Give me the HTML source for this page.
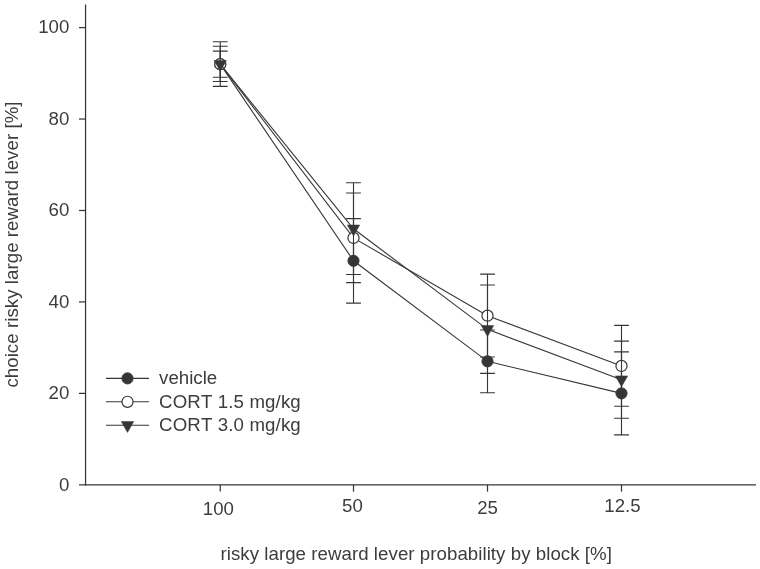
<!DOCTYPE html>
<html><head><meta charset="utf-8"><title>chart</title>
<style>html,body{margin:0;padding:0;background:#fff;}svg{display:block;will-change:transform;}text{font-kerning:none;font-family:"Liberation Sans",sans-serif;font-size:18.67px;fill:#3d3d3d;}</style>
</head><body>
<svg width="760" height="569" viewBox="0 0 760 569">
<rect x="0" y="0" width="760" height="569" fill="#ffffff"/>
<g stroke="#363636" stroke-width="1.25" fill="none">
<line x1="85.55" y1="4.4" x2="85.55" y2="485.5"/>
<line x1="79" y1="484.8" x2="756" y2="484.8"/>
<line x1="79" y1="393.36" x2="85.55" y2="393.36"/>
<line x1="79" y1="301.92" x2="85.55" y2="301.92"/>
<line x1="79" y1="210.48" x2="85.55" y2="210.48"/>
<line x1="79" y1="119.04" x2="85.55" y2="119.04"/>
<line x1="79" y1="27.60" x2="85.55" y2="27.60"/>
<line x1="220.25" y1="484.8" x2="220.25" y2="491.6"/>
<line x1="353.5" y1="484.8" x2="353.5" y2="491.6"/>
<line x1="487.5" y1="484.8" x2="487.5" y2="491.6"/>
<line x1="621.5" y1="484.8" x2="621.5" y2="491.6"/>
</g>
<g stroke="#363636" stroke-width="1.1" fill="none">
<polyline points="220.25,64.18 353.50,260.77 487.50,361.36 621.50,393.36"/>
<path d="M220.25 51.10V77.20M212.85 51.10H227.65M212.85 77.20H227.65"/>
<path d="M353.50 218.60V303.10M346.10 218.60H360.90M346.10 303.10H360.90"/>
<path d="M487.50 330.00V392.80M480.10 330.00H494.90M480.10 392.80H494.90"/>
<path d="M621.50 351.90V434.90M614.10 351.90H628.90M614.10 434.90H628.90"/>
</g>
<circle cx="220.25" cy="64.18" r="5.55" fill="#363636" stroke="#363636" stroke-width="1"/>
<circle cx="353.50" cy="260.77" r="5.55" fill="#363636" stroke="#363636" stroke-width="1"/>
<circle cx="487.50" cy="361.36" r="5.55" fill="#363636" stroke="#363636" stroke-width="1"/>
<circle cx="621.50" cy="393.36" r="5.55" fill="#363636" stroke="#363636" stroke-width="1"/>
<g stroke="#363636" stroke-width="1.1" fill="none">
<polyline points="220.25,64.18 353.50,237.91 487.50,315.64 621.50,365.93"/>
<path d="M220.25 46.30V81.50M212.85 46.30H227.65M212.85 81.50H227.65"/>
<path d="M353.50 193.00V282.60M346.10 193.00H360.90M346.10 282.60H360.90"/>
<path d="M487.50 274.10V357.00M480.10 274.10H494.90M480.10 357.00H494.90"/>
<path d="M621.50 325.40V406.30M614.10 325.40H628.90M614.10 406.30H628.90"/>
</g>
<circle cx="220.25" cy="64.18" r="5.55" fill="#fff" stroke="#363636" stroke-width="1.2"/>
<circle cx="353.50" cy="237.91" r="5.55" fill="#fff" stroke="#363636" stroke-width="1.2"/>
<circle cx="487.50" cy="315.64" r="5.55" fill="#fff" stroke="#363636" stroke-width="1.2"/>
<circle cx="621.50" cy="365.93" r="5.55" fill="#fff" stroke="#363636" stroke-width="1.2"/>
<g stroke="#363636" stroke-width="1.1" fill="none">
<polyline points="220.25,64.18 353.50,228.77 487.50,329.35 621.50,379.64"/>
<path d="M220.25 41.80V86.40M212.85 41.80H227.65M212.85 86.40H227.65"/>
<path d="M353.50 182.70V274.50M346.10 182.70H360.90M346.10 274.50H360.90"/>
<path d="M487.50 285.00V373.40M480.10 285.00H494.90M480.10 373.40H494.90"/>
<path d="M621.50 341.10V418.30M614.10 341.10H628.90M614.10 418.30H628.90"/>
</g>
<path d="M214.05 60.43H226.45L220.25 71.33Z" fill="#363636" stroke="#363636" stroke-width="0.5" stroke-linejoin="miter"/>
<path d="M347.30 225.02H359.70L353.50 235.92Z" fill="#363636" stroke="#363636" stroke-width="0.5" stroke-linejoin="miter"/>
<path d="M481.30 325.60H493.70L487.50 336.50Z" fill="#363636" stroke="#363636" stroke-width="0.5" stroke-linejoin="miter"/>
<path d="M615.30 375.89H627.70L621.50 386.79Z" fill="#363636" stroke="#363636" stroke-width="0.5" stroke-linejoin="miter"/>
<line x1="106.0" y1="378.4" x2="149.1" y2="378.4" stroke="#363636" stroke-width="1.1"/>
<circle cx="127.50" cy="378.40" r="5.55" fill="#363636" stroke="#363636" stroke-width="1"/>
<line x1="106.0" y1="401.8" x2="149.1" y2="401.8" stroke="#363636" stroke-width="1.1"/>
<circle cx="127.50" cy="401.80" r="5.55" fill="#fff" stroke="#363636" stroke-width="1.2"/>
<line x1="106.0" y1="425.3" x2="149.1" y2="425.3" stroke="#363636" stroke-width="1.1"/>
<path d="M121.30 421.55H133.70L127.50 432.45Z" fill="#363636" stroke="#363636" stroke-width="0.5" stroke-linejoin="miter"/>
<text x="159.1" y="384" style="letter-spacing:0px">vehicle</text>
<text x="159.1" y="408" style="letter-spacing:0.13px">CORT 1.5 mg/kg</text>
<text x="159.1" y="431" style="letter-spacing:0.13px">CORT 3.0 mg/kg</text>
<text x="69.3" y="491" text-anchor="end">0</text>
<text x="69.3" y="399" text-anchor="end">20</text>
<text x="69.3" y="308" text-anchor="end">40</text>
<text x="69.3" y="216" text-anchor="end">60</text>
<text x="69.3" y="125" text-anchor="end">80</text>
<text x="69.3" y="33" text-anchor="end">100</text>
<text x="218.4" y="515" text-anchor="middle">100</text>
<text x="352.5" y="512" text-anchor="middle">50</text>
<text x="487.6" y="514" text-anchor="middle">25</text>
<text x="622.5" y="512" text-anchor="middle">12.5</text>
<text x="416.2" y="560" text-anchor="middle" style="letter-spacing:0.056px">risky large reward lever probability by block [%]</text>
<text transform="translate(18,244.5) rotate(-90)" text-anchor="middle" style="letter-spacing:0.06px">choice risky large reward lever [%]</text>
</svg>
</body></html>
